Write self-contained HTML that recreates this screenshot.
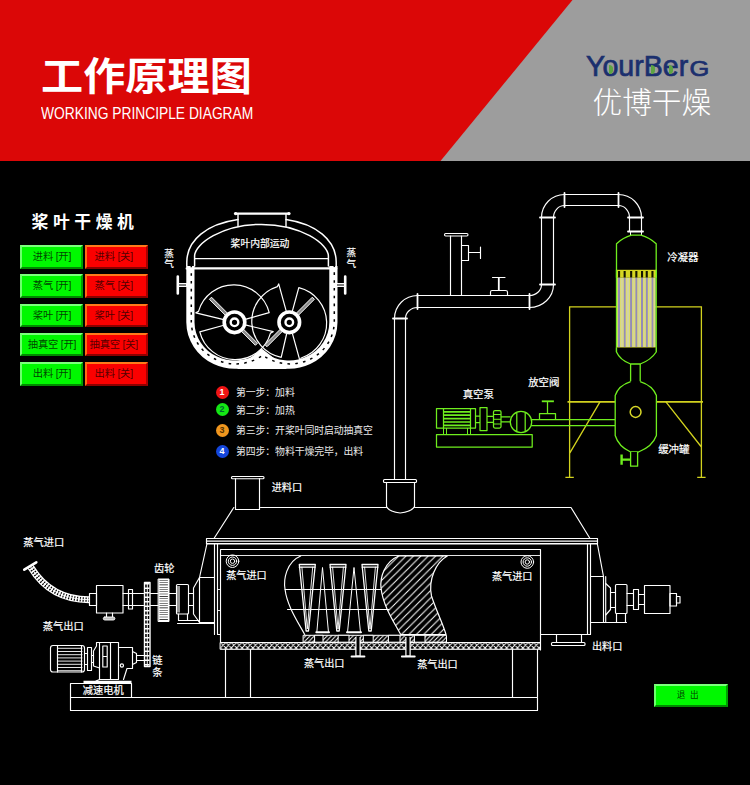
<!DOCTYPE html>
<html lang="zh">
<head>
<meta charset="utf-8">
<title>工作原理图</title>
<style>
html,body{margin:0;padding:0;background:#000;}
body{width:750px;height:785px;overflow:hidden;position:relative;font-family:"Liberation Sans","Noto Sans CJK SC",sans-serif;}
#hdr{position:absolute;left:0;top:0;width:750px;height:161px;background:#9d9d9d;overflow:hidden;}
#hdr .red{position:absolute;left:0;top:0;width:750px;height:161px;background:#db0707;clip-path:polygon(0 0,572.5px 0,440.5px 161px,0 161px);}
#t1{position:absolute;left:41px;top:47px;font-size:38.5px;line-height:60px;font-weight:700;color:#fff;white-space:nowrap;transform:scaleX(1.095);transform-origin:0 0;}
#t2{position:absolute;left:41px;top:104.5px;font-size:16px;line-height:18px;color:#fff;white-space:nowrap;transform:scaleX(0.862);transform-origin:0 0;}
#logo{position:absolute;left:586px;top:50px;font-size:29px;line-height:32px;font-weight:400;color:#1b2f6e;white-space:nowrap;transform:scaleX(0.985);transform-origin:0 0;-webkit-text-stroke:0.7px #1b2f6e;}
#brand{position:absolute;left:592.5px;top:83px;font-size:29.7px;line-height:40px;font-weight:300;color:#fff;white-space:nowrap;}
#main{position:absolute;left:0;top:161px;width:750px;height:624px;background:#000;}
svg{position:absolute;left:0;top:0;}
.lb{font-family:"Liberation Sans","Noto Sans CJK SC",sans-serif;font-size:10.5px;fill:#fff;stroke:#fff;stroke-width:0.2px;}

#pt{position:absolute;left:31.5px;top:211px;font-size:16.8px;line-height:24px;font-weight:700;color:#fff;letter-spacing:4.6px;white-space:nowrap;}
.bt{position:absolute;width:58.5px;height:19.5px;border-style:solid;border-width:2px;box-sizing:content-box;font-size:10.3px;line-height:19.5px;text-align:center;white-space:nowrap;letter-spacing:-0.2px;}
.g{background:#00f800;border-color:#7dff7d #00a000 #008a00 #6dff6d;color:rgba(0,45,0,.9);text-indent:1.5px;}
.r{background:#fb0000;border-color:#ff7a1a #a80000 #8c0000 #ff6a10;color:rgba(60,0,0,.9);text-indent:-5px;}
.st{position:absolute;left:236px;font-size:9.9px;line-height:14px;color:#e9e9e9;white-space:nowrap;letter-spacing:-0.1px;}
.cn{position:absolute;left:215.5px;width:13px;height:13px;border-radius:50%;font-size:9px;line-height:13px;font-weight:700;text-align:center;color:#fff;}
.sg{display:inline-block;font-size:21.5px;transform:scaleX(1.2);transform-origin:0 100%;margin-left:1px;}
.gd{position:absolute;width:4px;height:9px;background:#5ea443;border-radius:0 5px 5px 0/0 4.5px 4.5px 0;}
</style>
</head>
<body>
<div id="hdr"><div class="red"></div>
<div id="t1">工作原理图</div>
<div id="t2">WORKING PRINCIPLE DIAGRAM</div>
<div id="logo">YourBer<span class="sg">G</span></div>
<div class="gd" style="left:608.5px;top:65px"></div><div class="gd" style="left:650.5px;top:65px"></div><div class="gd" style="left:668.5px;top:65px"></div>
<div id="brand">优博干燥</div>
</div>
<div id="main"></div>
<div id="pt">桨叶干燥机</div>
<div class="bt g" style="left:20px;top:245.0px">进料 [开]</div><div class="bt r" style="left:85px;top:245.0px">进料 [关]</div>
<div class="bt g" style="left:20px;top:274.3px">蒸气 [开]</div><div class="bt r" style="left:85px;top:274.3px">蒸气 [关]</div>
<div class="bt g" style="left:20px;top:303.6px">桨叶 [开]</div><div class="bt r" style="left:85px;top:303.6px">桨叶 [关]</div>
<div class="bt g" style="left:20px;top:332.9px">抽真空 [开]</div><div class="bt r" style="left:85px;top:332.9px">抽真空 [关]</div>
<div class="bt g" style="left:20px;top:362.2px">出料 [开]</div><div class="bt r" style="left:85px;top:362.2px">出料 [关]</div>
<div class="cn" style="top:385.8px;background:#f01414">1</div><div class="st" style="top:386.3px">第一步：加料</div>
<div class="cn" style="top:403.2px;background:#14e614;color:#063">2</div><div class="st" style="top:403.7px">第二步：加热</div>
<div class="cn" style="top:423.7px;background:#f0961e;color:#530">3</div><div class="st" style="top:424.2px">第三步：开桨叶同时启动抽真空</div>
<div class="cn" style="top:445.0px;background:#1446dc">4</div><div class="st" style="top:444.5px">第四步：物料干燥完毕，出料</div>
<div class="bt g" style="left:654.3px;top:683.6px;width:69.3px;height:19.5px;line-height:19.5px;font-size:8.6px;letter-spacing:4.5px;text-indent:-2px">退出</div>
<svg id="dg" width="750" height="785" viewBox="0 0 750 785">
<g id="xsec" fill="none" stroke="#fff" stroke-width="1.1" stroke-linecap="round" stroke-linejoin="round">
<path d="M235.5 213.6H289" stroke-width="2.2"/><circle cx="235.6" cy="213.6" r="1.7" fill="#fff" stroke="none"/><circle cx="288.9" cy="213.6" r="1.7" fill="#fff" stroke="none"/>
<path d="M238 214V226.6M286 214V226.6" stroke-width="1.4"/>
<path d="M186.8 266V262C187 240 207 224 238 219.6M336.2 266V262C336 240 316 224 286 219.6" stroke-width="1.5"/>
<path d="M194.6 266V256C194.8 244 222 224.4 261.5 224.4C301 224.4 328.2 244 328.4 256V266" stroke-width="1.5"/>
<path d="M194.6 258.7H328.4" stroke-width="1.2"/>
<path d="M190.4 266V322.3A44.4 42.5 0 0 0 261.9 355.7A44.4 42.5 0 0 0 333.4 322.3V266" stroke-width="8.2" stroke-linecap="butt"/>
<path d="M238 368.3H286L261.9 349.5Z" fill="#fff" stroke-width="1.2"/>
<path d="M190.4 266V322.3A44.4 42.5 0 0 0 261.9 355.7A44.4 42.5 0 0 0 333.4 322.3V266" stroke="#000" stroke-width="1.5" stroke-dasharray="2.6 5.2" stroke-linecap="butt" transform="translate(0.9 -0.6)"/>
<path d="M186.8 268.4H336.2" stroke-width="2.4"/>
<path d="M177.8 276.5V293.5M345.2 276.5V293.5" stroke-width="2.6"/><path d="M178 285H187M336 285H345" stroke-width="4.2" stroke-linecap="butt"/><path d="M179 285H186M337 285H344" stroke="#000" stroke-width="1" stroke-linecap="butt"/>
<g stroke-width="1.2">
<path d="M222.8 319.4L195.8 312.8L198.5 311.4A36.6 36.6 0 0 1 269.2 312.7L246.1 319.1"/><path d="M246.2 325.1L273.2 331.7L270.5 333.1A36.6 36.6 0 0 1 199.8 331.8L222.9 325.5"/>
<path d="M292.5 310.7L298.8 287.6A36.6 36.6 0 0 1 301.2 358.0L299.9 360.7L292.5 333.9"/><path d="M286.6 334.0L281.2 357.4A36.6 36.6 0 0 1 277.4 286.6L278.7 283.9L286.1 310.7"/>
</g>
<path d="M231.3 317.0L211.5 297.2L209.4 299.3L229.2 319.1ZM237.7 327.6L255.4 345.3L257.5 343.2L239.8 325.5ZM294.6 319.1L314.4 299.3L312.3 297.2L292.5 317.0ZM284.0 325.5L264.9 344.6L267.0 346.7L286.1 327.6Z" stroke-width="1" fill="#8a8a8a"/>
<circle cx="234.5" cy="322.3" r="10.3" stroke-width="3.6" fill="#000"/><circle cx="234.5" cy="322.3" r="3.8" stroke-width="2.4" fill="#000"/>
<circle cx="289.3" cy="322.3" r="10.3" stroke-width="3.6" fill="#000"/><circle cx="289.3" cy="322.3" r="3.8" stroke-width="2.4" fill="#000"/>
</g>
<g class="lb"><text x="260" y="247" text-anchor="middle" font-size="9.8">桨叶内部运动</text><text x="164.3" y="256.5" font-size="9.6">蒸</text><text x="164.3" y="267.3" font-size="9.6">气</text><text x="346.5" y="256" font-size="9.6">蒸</text><text x="346.5" y="267" font-size="9.6">气</text></g>

<g id="pipe" fill="none" stroke="#fff" stroke-width="1.15" stroke-linecap="round" stroke-linejoin="round">
<path d="M394.5 479V318.5M405.5 479V318.5"/>
<path d="M393.0 318.5H407.0" stroke-width="1.8"/>
<path d="M394.5 318.5A23.0 23.0 0 0 1 417.5 295.5M405.5 318.5A12.0 11.0 0 0 1 417.5 307.5"/>
<path d="M417.5 294.0V309.0" stroke-width="1.8"/>
<path d="M417.5 295.5H529.5M417.5 307.5H529.5"/>
<path d="M529.5 294.0V309.0" stroke-width="1.8"/>
<path d="M529.5 295.5A12.0 11.0 0 0 0 541.5 284.5M529.5 307.5A24.0 23.0 0 0 0 553.5 284.5"/>
<path d="M540.0 284.5H555.0" stroke-width="1.8"/>
<path d="M541.5 284.5V217.5M553.5 284.5V217.5"/>
<path d="M540.0 217.5H555.0" stroke-width="1.8"/>
<path d="M541.5 217.5A23.0 23.0 0 0 1 564.5 194.5M553.5 217.5A11.0 12.0 0 0 1 564.5 205.5"/>
<path d="M564.5 193.0V207.0" stroke-width="1.8"/>
<path d="M564.5 194.5H618.5M564.5 205.5H618.5"/>
<path d="M618.5 193.0V207.0" stroke-width="1.8"/>
<path d="M618.5 194.5A23.0 23.0 0 0 1 641.5 217.5M618.5 205.5A11.0 12.0 0 0 1 629.5 217.5"/>
<path d="M628.0 217.5H643.0" stroke-width="1.8"/>
<path d="M629.5 217.5V231.5M641.5 217.5V231.5"/>
<path d="M628.0 231.5H643.0" stroke-width="1.8"/>
<path d="M630.5 231.5V235M641.5 231.5V235" stroke-width="1"/>
<path d="M450.5 295.5V236M461.5 295.5V236"/>
<rect x="444.5" y="233.5" width="23.5" height="2.5" rx="1.2"/>
<path d="M461.5 245.5H468.5V260.5H461.5M468.5 252.5H480.5M480.5 247V258.5"/>
<path d="M490.5 295.5V292Q490.5 290.5 492 290.5H505.5Q507.5 290.5 507.5 292V295.5M492.5 277.5H505"/>
<path d="M498.8 290V278" stroke-width="1.8"/>
<rect x="383.5" y="479.5" width="33" height="3" rx="1"/>
<path d="M386.5 482.5V506.5Q388.5 511.5 400.2 513Q412 511.5 414.5 506.5V482.5"/>
</g>

<g id="frame" fill="none" stroke="#d2d21e" stroke-width="1.3" stroke-linecap="butt">
<path d="M569.6 477.3V306.8H701.4V477.3M565.4 477.3H573.8M697.2 477.3H705.6M600 401.8L569.6 453.3M665.9 401.8L701.4 447"/>
<path d="M567.5 401.8H703" stroke-width="1.7"/>
</g>
<g id="cond" fill="#000" stroke="#6fee1e" stroke-width="1.3" stroke-linejoin="round">
<path d="M616.5 277.8V243.7Q623 237.5 631.5 235.1H641Q649.5 237.5 656.2 243.7V277.8"/>
<rect x="616.5" y="269.8" width="39.7" height="8" fill="#d6d622" stroke="none"/>
<g fill="#141400" stroke="none"><rect x="618" y="271" width="2.1" height="6.8"/><rect x="623.6" y="271" width="2.1" height="6.8"/><rect x="630.1" y="271" width="2.1" height="6.8"/><rect x="635.3" y="271" width="2.1" height="6.8"/><rect x="641" y="271" width="2.1" height="6.8"/><rect x="645.7" y="271" width="2.1" height="6.8"/><rect x="651.4" y="271" width="2.1" height="6.8"/></g>
<rect x="617" y="277.8" width="38.8" height="69.8" fill="#d3d3a4" stroke="none"/>
<g stroke="none"><rect x="618" y="277.8" width="2.1" height="69.6" fill="#948cb6"/><rect x="617.1" y="277.8" width="0.8" height="69.6" fill="#e2e25e"/><rect x="620.3" y="277.8" width="0.8" height="69.6" fill="#e2e25e"/><rect x="623.6" y="277.8" width="2.1" height="69.6" fill="#948cb6"/><rect x="622.7" y="277.8" width="0.8" height="69.6" fill="#e2e25e"/><rect x="625.9" y="277.8" width="0.8" height="69.6" fill="#e2e25e"/><rect x="630.1" y="277.8" width="2.1" height="69.6" fill="#948cb6"/><rect x="629.2" y="277.8" width="0.8" height="69.6" fill="#e2e25e"/><rect x="632.4" y="277.8" width="0.8" height="69.6" fill="#e2e25e"/><rect x="635.3" y="277.8" width="2.1" height="69.6" fill="#948cb6"/><rect x="634.4" y="277.8" width="0.8" height="69.6" fill="#e2e25e"/><rect x="637.5999999999999" y="277.8" width="0.8" height="69.6" fill="#e2e25e"/><rect x="641" y="277.8" width="2.1" height="69.6" fill="#948cb6"/><rect x="640.1" y="277.8" width="0.8" height="69.6" fill="#e2e25e"/><rect x="643.3" y="277.8" width="0.8" height="69.6" fill="#e2e25e"/><rect x="645.7" y="277.8" width="2.1" height="69.6" fill="#948cb6"/><rect x="644.8000000000001" y="277.8" width="0.8" height="69.6" fill="#e2e25e"/><rect x="648.0" y="277.8" width="0.8" height="69.6" fill="#e2e25e"/><rect x="651.4" y="277.8" width="2.1" height="69.6" fill="#948cb6"/><rect x="650.5" y="277.8" width="0.8" height="69.6" fill="#e2e25e"/><rect x="653.6999999999999" y="277.8" width="0.8" height="69.6" fill="#e2e25e"/></g>
<path d="M616.5 269.8V352M656.2 269.8V352" fill="none"/>
<path d="M616.5 347.6H656.2" fill="none" stroke="#dede30" stroke-width="1.2"/>
<path d="M616.5 347.6V352Q620 360 630.6 364H640.2Q651 360 656.2 352V347.6" />
<path d="M630.6 364V381.6M640.2 364V381.6" fill="none"/>
<path d="M630.6 381.6Q618.5 385.5 615.2 395.5V435.5Q618.5 446.5 630.6 452H638.5Q652.5 446.5 656.4 435.5V395.5Q652.5 385.5 640.2 381.6"/>
<circle cx="635.6" cy="412" r="5.4" stroke="#d8d828" stroke-width="1.5"/>
<path d="M630.6 452V466.2H637.6V452" />
<path d="M621.6 454.5V464.8M621.6 459.6H630.6" stroke-width="2.4" fill="none"/>
</g>
<g class="lb"><text x="667.2" y="260.5" font-size="10.45">冷凝器</text><text x="658.2" y="453" font-size="10.45">缓冲罐</text></g>

<g id="pump" fill="none" stroke="#6fee1e" stroke-width="1.25" stroke-linejoin="round">
<path d="M531 419.5H615M531 425.5H615"/>
<rect x="436.5" y="408.5" width="39" height="19.5"/>
<path d="M443.5 408.5V428M470.5 408.5V428"/>
<path d="M443.5 411.8H470.5M443.5 415.2H470.5M443.5 418.6H470.5M443.5 422H470.5M443.5 425.4H470.5" stroke-width="1.7"/>
<path d="M443.5 428V434.5M446.5 428V434.5M467.5 428V434.5M470.5 428V434.5" stroke-width="1"/>
<rect x="436.5" y="434.5" width="95.7" height="12.5"/>
<path d="M475.5 416H480M475.5 422.5H480M487 416.3H493.5M487 422.3H493.5M501 416.8H510.5M501 421.9H510.5"/>
<rect x="480" y="407.5" width="7" height="23"/>
<rect x="493.5" y="410.5" width="7.5" height="17.5" rx="1.5"/>
<path d="M493.5 414.5H501M493.5 419.3H501M493.5 424H501" stroke-width="1"/>
<circle cx="521" cy="422" r="10.7" fill="#000"/>
<path d="M516.8 412.3V431.7M525.2 412.3V431.7"/>
<path d="M539.5 419.5V413.5H555.5V419.5M547.5 413.5V401.5" />
<path d="M541.8 401.3H553.9" stroke-width="1.8"/>
</g>
<g class="lb"><text x="462.7" y="398" font-size="10.45">真空泵</text><text x="528.2" y="386" font-size="10.45">放空阀</text></g>

<defs>
<pattern id="hx" width="5.4" height="5.4" x="220.5" y="642.5" patternUnits="userSpaceOnUse"><path d="M0 5.4L5.4 0M-1 1L1 -1M4.4 6.4L6.4 4.4M0 0L5.4 5.4M-1 4.4L1 6.4M4.4 -1L6.4 1" stroke="#fff" stroke-width="1"/></pattern>
<pattern id="hd" width="4.3" height="4.3" patternUnits="userSpaceOnUse"><path d="M0 4.3L4.3 0M-1 1L1 -1M3.3 5.3L5.3 3.3" stroke="#fff" stroke-width="1"/></pattern>
<pattern id="hb" width="7.4" height="7.4" patternUnits="userSpaceOnUse"><path d="M0 7.4L7.4 0M-1 1L1 -1M6.4 8.4L8.4 6.4" stroke="#fff" stroke-width="1.05"/></pattern>
</defs>
<g id="dryer" fill="none" stroke="#fff" stroke-width="1.15" stroke-linejoin="round" stroke-linecap="round">
<path d="M214 538.5L233.8 507.5M260.5 507.5H386.5M414.5 507.5H571L590 538.5"/>
<rect x="231.5" y="476.5" width="32.5" height="2.2" rx="1"/>
<path d="M235.5 478.5V509.5H259.5V478.5"/>
<path d="M206.5 538.5H597.5V543.5H206.5Z"/><path d="M206.5 543.8H597.5" stroke-width="1.3"/>
<path d="M206.5 541.2H597.5" stroke-width="1.2"/>
<path d="M220.5 642.5V549.5H540.5V650"/>
<path d="M220.5 555.5H540.5" stroke-width="0.9"/>
<path d="M214.5 543.5V634.5M217.5 543.5V634.5H220.5"/>
<path d="M217.5 589.5H220.5M217.5 610.5H220.5" stroke-width="0.9"/>
<path d="M207 543.5L199.5 577.5H214.5M199.5 577.5V622.5H214.5"/>
<path d="M540.5 634.5H590.5V543.5M587.5 543.5V634.5"/>
<path d="M597.3 543.5L603.5 576.5H590.5M603.5 576.5V622.5M605.7 576.5V622.5"/>
<rect x="220.5" y="642.5" width="320" height="6.8" fill="url(#hx)" stroke-width="1"/>
<path d="M225.5 649.5V697M250.5 649.5V697M512.5 649.5V697M537.5 649.5V697"/>
<path d="M556.5 634.5V642.5M581.5 634.5V642.5"/><rect x="551.5" y="642.5" width="33.5" height="3" rx="1"/>
<circle cx="232.5" cy="561.2" r="6.3" stroke-width="1"/><circle cx="232.5" cy="561.2" r="4.2" stroke-width="1"/><circle cx="232.5" cy="561.2" r="2.2" stroke-width="1"/>
<circle cx="527.3" cy="562" r="6.3" stroke-width="1"/><circle cx="527.3" cy="562" r="4.2" stroke-width="1"/><circle cx="527.3" cy="562" r="2.2" stroke-width="1"/>
<path d="M300.7 556C286 562 283.5 580 285 589C287 606 298 622 304.7 634.5" />
<path d="M285 589.5H381M287.5 609.5H389" stroke-width="1"/>
<path d="M299.3 564.5H315.3M299.3 567.2H315.3M299.3 564.5L306.1 631H308.5L315.3 564.5" stroke-width="1.3"/>
<path d="M301.90000000000003 567.2L307.3 629L312.7 567.2" stroke-width="0.9"/>
<path d="M330 564.5H346M330 567.2H346M330 564.5L336.8 631H339.2L346 564.5" stroke-width="1.3"/>
<path d="M332.6 567.2L338.0 629L343.4 567.2" stroke-width="0.9"/>
<path d="M362 564.5H378M362 567.2H378M362 564.5L368.8 631H371.2L378 564.5" stroke-width="1.3"/>
<path d="M364.6 567.2L370.0 629L375.4 567.2" stroke-width="0.9"/>
<path d="M316.8 632.5L322.5 567.5L328.5 632.5" stroke-width="1"/>
<path d="M316.3 632.3H329" stroke-width="2"/>
<path d="M347.5 632.5L354 567.5L360.5 632.5" stroke-width="1"/>
<path d="M347 632.3H361" stroke-width="2"/>
<path d="M398.7 556C384 562 380 578 381 588C383 606 394 622 400.7 634.5H446C443 624 436 610 431.5 596C428 580 436 562 447.3 556Z" fill="url(#hb)" stroke-width="1.2"/>
<rect x="303.5" y="635.3" width="143" height="6.9" fill="url(#hd)" stroke-width="1"/>
<rect x="315" y="635.3" width="8" height="6.9" fill="#000" stroke-width="1"/><rect x="338.5" y="635.3" width="10.5" height="6.9" fill="#000" stroke-width="1"/><rect x="363.7" y="635.3" width="9.5" height="6.9" fill="#000" stroke-width="1"/><rect x="388.8" y="635.3" width="11.199999999999989" height="6.9" fill="#000" stroke-width="1"/><rect x="414.8" y="635.3" width="10.199999999999989" height="6.9" fill="#000" stroke-width="1"/>
<path d="M358 637V656M408 637V656" stroke-width="5.4" stroke="#fff" stroke-linecap="butt"/><path d="M358 636V655.5M408 636V655.5" stroke-width="3" stroke="#000" stroke-linecap="butt"/><path d="M351.5 656.5H364.5M401.8 656.5H414.8" stroke-width="1.8"/>
</g>
<g class="lb"><text x="271.7" y="491" font-size="10.14">进料口</text><text x="226.2" y="579.3" font-size="10.14">蒸气进口</text><text x="491.9" y="579.8" font-size="10.14">蒸气进口</text><text x="303.9" y="666.5" font-size="10.14">蒸气出口</text><text x="417.2" y="667.8" font-size="10.14">蒸气出口</text><text x="591.9" y="650.3" font-size="10.14">出料口</text></g>

<g id="drive" fill="none" stroke="#fff" stroke-width="1.15" stroke-linejoin="round" stroke-linecap="round">
<path d="M70.5 697.5H537.5V710.5H70.5Z"/>
<path d="M70.5 697.5V683.5H131.5V697.5"/>
<path d="M30.7 567Q50.7 599.7 89 599.7" stroke-width="7" stroke-linecap="butt"/>
<path d="M30.7 567Q50.7 599.7 89 599.7" stroke="#000" stroke-width="4.4" stroke-dasharray="1.2 1.7" stroke-linecap="butt"/>
<path d="M30.7 567Q50.7 599.7 89 599.7" stroke-width="0.9" stroke-linecap="butt"/>
<path d="M24.3 569.7L36.3 562.3" stroke-width="2.6"/>
<rect x="96.5" y="585.5" width="26.5" height="27.5"/>
<rect x="89.5" y="593.5" width="7" height="12"/>
<path d="M106.5 613V617M112.5 613V617"/><rect x="103.3" y="617" width="11.6" height="3" rx="1.5" fill="#bbb" stroke-width="0.9"/>
<path d="M123 593.5H143.5M123 605.5H143.5M150.5 593.5H158M150.5 605.5H158M169 593.5H176M169 605.5H176M188.5 593.5H193.5M188.5 605.5H193.5"/>
<rect x="128.5" y="589.5" width="4" height="19.5" />
<rect x="144.5" y="582.5" width="5.5" height="84" fill="#000" stroke-width="1.4"/>
<path d="M147.25 583V666" stroke-width="4.6" stroke-dasharray="1.5 3" stroke-linecap="butt"/>
<path d="M147.25 583V666" stroke-width="1" stroke="#fff"/>
<rect x="158.5" y="579" width="10.5" height="42.5" fill="#fff" stroke-width="1"/>
<path d="M163.7 580V621" stroke="#000" stroke-width="8.4" stroke-dasharray="0.55 1.75" stroke-linecap="butt"/>
<rect x="176.5" y="584.5" width="12" height="29.5" rx="1"/>
<rect x="177" y="586" width="3" height="26.5" fill="#999" stroke="none"/>
<path d="M178.5 614V620.5H187.5V614M177.5 623.5H214M187.5 620.5H199"/>
<path d="M193.5 588V614L199.5 622.5M193.5 588L199.5 577.5"/>
<rect x="50.5" y="645.5" width="34" height="26.5" rx="2.5"/>
<path d="M57.5 645.5V672M81.5 645.5V672"/>
<path d="M58 648.3H82M58 651.5H82M58 654.7H82M58 657.9H82M58 661.1H82M58 664.3H82M58 667.5H82M58 670.7H82" stroke-width="0.9"/>
<path d="M84.5 653.5H87.5M84.5 664.5H87.5M91.5 655.5H93.5M91.5 662.5H93.5"/>
<rect x="87.5" y="647.5" width="4" height="23"/>
<path d="M93.5 651L96.5 646V642.5H118.5V679.5H99.5V668L93.5 666Z"/>
<path d="M99.5 642.5V668M102.8 646H107.2V667H102.8ZM102.8 656.5H107.2M110.5 642.5V679.5"/>
<path d="M118.5 647.5H132.5V668.5H127L123.5 679.5M132.5 651.5L136.5 653.5V662.5L132.5 664.5M136.5 655.5H144M136.5 660.5H144"/>
<circle cx="121.9" cy="665.5" r="1.6"/>
<path d="M99.5 679.5L96 681"/><path d="M83.5 681.8H131.5" stroke-width="2.2" stroke-linecap="butt"/>
<path d="M605.7 583.5L610.5 588V609.5L605.7 615M610.5 592.5H615.5M610.5 607.5H615.5"/>
<rect x="615.5" y="584.5" width="11.5" height="29" rx="1"/>
<path d="M616.5 613.5V622.5M625.5 613.5V622.5M590.5 622.5H626.5"/>
<path d="M627 593.5H633.5M627 605.5H633.5M638.5 594.5H644.5M638.5 604.5H644.5"/>
<rect x="633.5" y="589.5" width="5" height="20"/>
<rect x="644.5" y="585.5" width="25.5" height="28"/>
<rect x="670" y="593.5" width="6.5" height="12.5"/><rect x="676.5" y="596.5" width="3.5" height="6.5"/>
</g>
<g class="lb"><text x="23.2" y="546.3" font-size="10.24">蒸气进口</text><text x="42.7" y="629.5" font-size="10.24">蒸气出口</text><text x="154.0" y="572" font-size="10.24">齿轮</text><text x="152.2" y="664" font-size="10.24">链</text><text x="152.2" y="675.5" font-size="10.24">条</text><text x="82.7" y="693.8" font-size="10.24">减速电机</text></g>


</svg>
</body>
</html>
